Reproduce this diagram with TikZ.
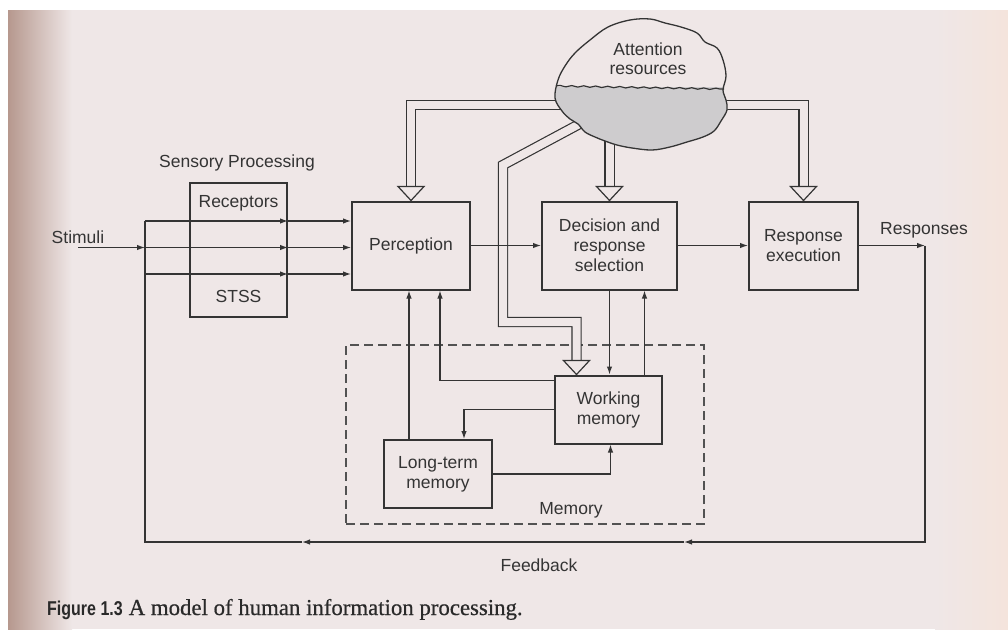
\documentclass[tikz,border=0pt]{standalone}
\usepackage{fontspec}
\setmainfont{Liberation Sans}
\newfontfamily\captionserif[FakeBold=0.6]{Liberation Serif}
\newfontfamily\captionsans[FakeStretch=0.8]{Liberation Sans}
\usepackage{xcolor}
\usepackage{tikz}
\usetikzlibrary{arrows.meta,decorations.pathmorphing}

\definecolor{paper}{RGB}{239,231,231}
\definecolor{gutter}{RGB}{182,152,142}
\definecolor{peach}{RGB}{244,228,220}
\definecolor{ink}{RGB}{52,52,52}
\definecolor{fog}{RGB}{206,204,206}

\begin{document}
\begin{tikzpicture}[x=1pt, y=-1pt,
  box/.style={draw=ink, line width=2pt, inner sep=0, align=center, text=ink},
  plain/.style={draw=ink, line width=1.2pt},
  line/.style={plain, -{Latex[length=8pt,width=5.5pt]}},
  fat/.style={draw=ink, line width=1.2pt, double=paper, double distance=8pt, shorten >=14pt},
  head/.style={draw=ink, line width=1.2pt, fill=paper, line join=miter},
  txt/.style={text=ink, align=center, inner sep=1pt},
  node font=\fontsize{17.5}{20}\selectfont]

\useasboundingbox (0,0) rectangle (1008,629);
\fill[white] (0,0) rectangle (1008,629);
\fill[paper] (8,10) rectangle (1008,629);
\shade[left color=gutter, right color=paper] (8,10) rectangle (72,629);
\shade[left color=paper, right color=peach] (935,10) rectangle (1008,629);

\node[box, minimum width=97pt, minimum height=134pt] (boxSensory) at (238.5,250) {};
\node[box, minimum width=118pt, minimum height=88pt] (boxPerception) at (411,245.5) {Perception};
\node[box, minimum width=135pt, minimum height=88pt] (boxDecision) at (609.5,245.5) {Decision and\\response\\selection};
\node[box, minimum width=109pt, minimum height=88pt] (boxResponse) at (803.5,245.5) {Response\\execution};
\node[box, minimum width=107pt, minimum height=68pt] (boxWorking) at (608.5,409.5) {Working\\memory};
\node[box, minimum width=108pt, minimum height=68pt] (boxLongTerm) at (438,474) {Long-term\\memory};
\node[draw=ink!85, line width=1.3pt, dash pattern=on 9pt off 5pt, minimum width=358pt, minimum height=179pt] (boxMemory) at (525,434.5) {};

\node[txt] (txtSensory)   at (237,163)   {Sensory Processing};
\node[txt] (txtReceptors) at (238.5,203) {Receptors};
\node[txt] (txtSTSS)      at (238.5,296) {STSS};
\node[txt] (txtStimuli)   at (78,237)    {Stimuli};
\node[txt] (txtResponses) at (924,230)   {Responses};
\node[txt] (txtMemory)    at (571,510)   {Memory};
\node[txt] (txtFeedback)  at (539,565)   {Feedback};

\coordinate (stimStart) at (78,247.5);
\coordinate (splitTop)  at (145,221);
\coordinate (splitMid)  at (145,247.5);
\coordinate (splitLow)  at (145,274);
\coordinate (fbRight)   at (925,542);
\coordinate (fbArrowR)  at (684,542);
\coordinate (fbArrowL)  at (302,542);
\coordinate (fbLeft)    at (145,542);

\coordinate (cloudLeft)   at (600,105);
\coordinate (cloudRight)  at (690,105);
\coordinate (cloudBottom) at (609.5,120);
\coordinate (cloudDiag)   at (600,113);
\coordinate (diagBend)    at (503,165);
\coordinate (diagLow)     at (503,322);
\coordinate (wmInlet)     at ([xshift=-32pt]boxWorking.north);

\draw[fat] (cloudLeft) -| (boxPerception.north);
\draw[fat] (cloudRight) -| (boxResponse.north);
\draw[fat] (cloudBottom) -- (boxDecision.north);
\draw[fat] (cloudDiag) -- (diagBend) -- (diagLow) -| (wmInlet);
\foreach \n in {boxPerception.north, boxDecision.north, boxResponse.north, wmInlet}
  \draw[head] (\n) -- ++(-13,-14) -- ++(26,0) -- cycle;

\path[save path=\cloudPath] plot[smooth cycle, tension=0.6] coordinates {
  (555,98) (558,80) (565,66) (575,53) (590,40) (608,27) (630,20) (650,19)
  (665,23) (681,27) (697,33) (705,42) (717,48) (723,60) (726,76) (723,90)
  (726,100) (727,110) (721,121) (714,131) (703,137) (687,142) (670,147)
  (652,150) (632,148) (617,145) (605,141) (595,137) (585,132) (578,124)
  (570,119) (562,111)};
\begin{scope}
  \clip[use path=\cloudPath];
  \fill[paper] (540,0) rectangle (740,160);
  \fill[fog] (540,87) rectangle (740,160);
\end{scope}
\draw[ink, line width=1.2pt, decorate, decoration={snake, amplitude=0.7pt, segment length=12pt}] (556,86) -- (724,89);
\draw[ink, line width=1.3pt, use path=\cloudPath];
\node[txt] (txtAttention) at (648,49) {Attention};
\node[txt] (txtResources) at (648,70) {resources};

\draw[line] (stimStart) -- (splitMid);
\foreach \s in {Top, Mid, Low} {
  \draw[line] (split\s) -- (boxSensory.east |- split\s);
  \draw[line] (boxSensory.east |- split\s) -- (boxPerception.west |- split\s);
}
\draw[line] (boxPerception.east) -- (boxDecision.west);
\draw[line] (boxDecision.east) -- (boxResponse.west);
\draw[line] (boxResponse.east) -- (boxResponse.east -| fbRight);
\draw[line] (boxResponse.east -| fbRight) -- (fbRight) -- (fbArrowR);
\draw[line] (fbArrowR) -- (fbArrowL);
\draw[plain] (fbArrowL) -- (fbLeft) -- (splitTop);

\draw[line] (boxDecision.south) -- (boxDecision.south |- boxWorking.north);
\draw[line] ([xshift=36pt]boxWorking.north) -- ([xshift=36pt]boxWorking.north |- boxDecision.south);
\draw[line] ([yshift=-6pt]boxWorking.north west) -| ([xshift=29pt]boxPerception.south);
\draw[line] ([xshift=-29pt]boxLongTerm.north) -- ([xshift=-29pt]boxLongTerm.north |- boxPerception.south);
\draw[line] (boxWorking.west) -| ([xshift=26pt]boxLongTerm.north);
\draw[line] (boxLongTerm.east) -| ([xshift=2pt]boxWorking.south);

\node[anchor=base west, inner sep=0, text=ink!80!black] (txtCaption) at (47,615)
  {\captionsans\fontsize{20}{22}\selectfont\bfseries Figure 1.3\hspace{6pt}\captionserif\mdseries\fontsize{22.8}{24}\selectfont A model of human information processing.};
\end{tikzpicture}
\end{document}
